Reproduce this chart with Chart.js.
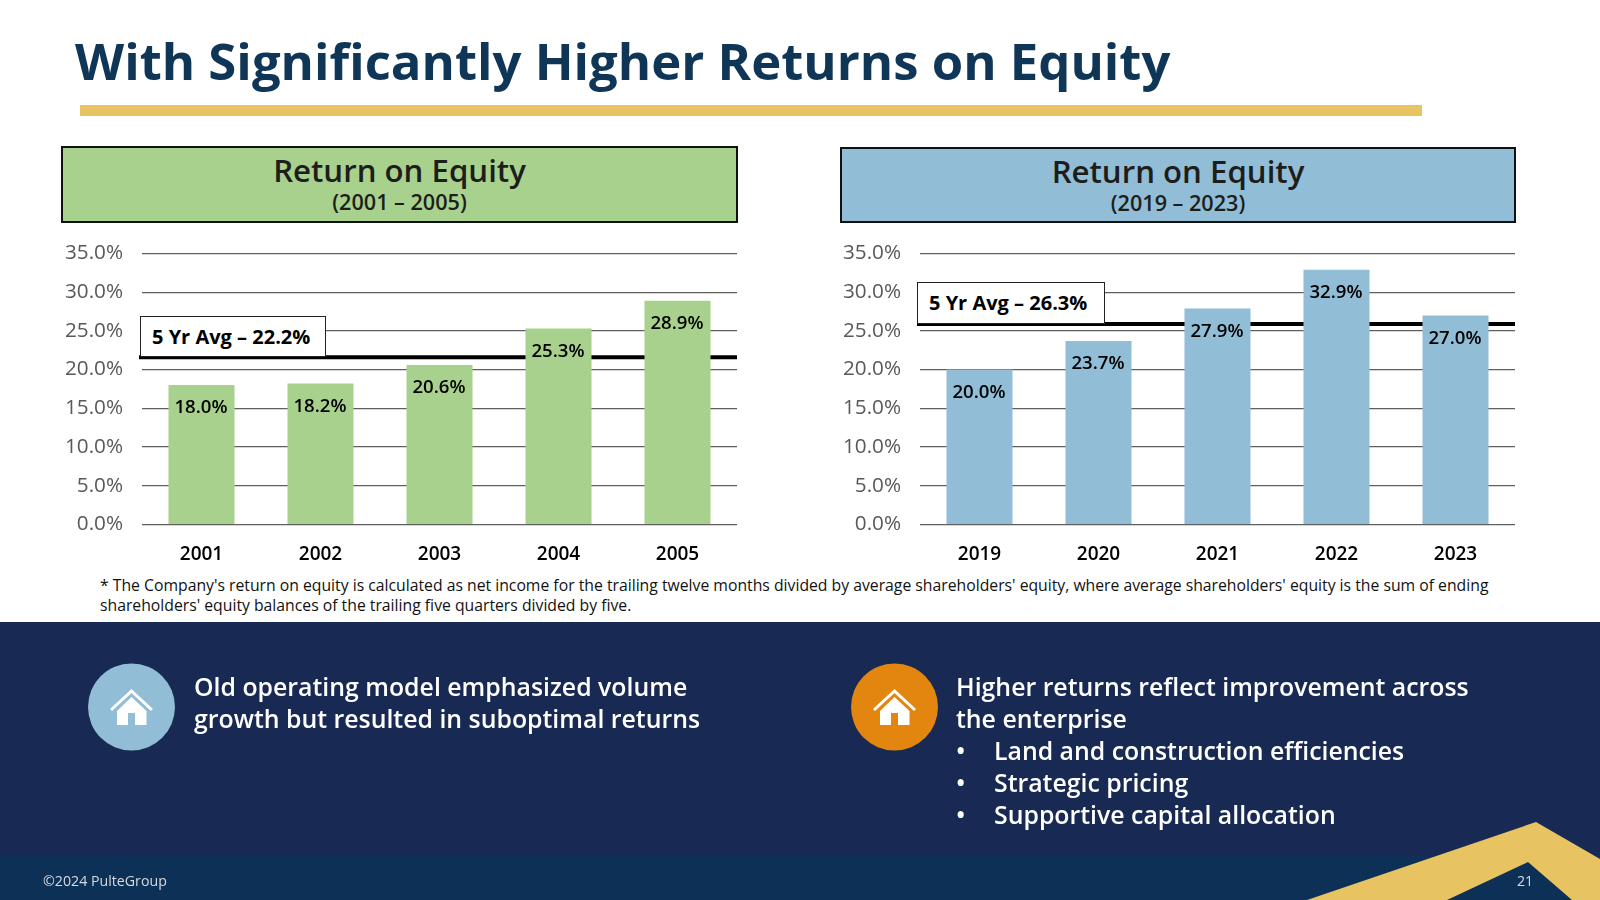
<!DOCTYPE html>
<html>
<head>
<meta charset="utf-8">
<title>Return on Equity</title>
<script src="https://cdn.jsdelivr.net/npm/chart.js@4"></script>
<style>
html,body{margin:0;padding:0;background:#fff;}
body{width:1600px;height:900px;position:relative;overflow:hidden;font-family:"Open Sans",sans-serif;color:#000;}
.abs{position:absolute;white-space:nowrap;}
#title{left:75px;top:25px;font-size:50.85px;font-weight:700;color:#0f3557;line-height:72px;}
#rule{left:80px;top:105px;width:1342px;height:11px;background:#e7c362;}
.head{box-sizing:border-box;border:2px solid #111;text-align:center;color:#1d1d1b;}
.head .big{font-size:31.2px;font-weight:600;line-height:40px;margin-top:2px;}
.head .small{font-size:21.6px;font-weight:600;line-height:24px;margin-top:0;}
#headL{left:61px;top:146px;width:677px;height:77px;background:#a9d18e;}
#headR{left:840px;top:147px;width:676px;height:76px;background:#92bdd6;}
canvas{position:absolute;}
.avg{box-sizing:border-box;border:1.5px solid #222;background:#fff;font-size:20px;font-weight:700;line-height:39px;padding-left:11px;z-index:2;}
#avgL{left:140px;top:316px;width:186px;height:41px;}
#avgR{left:917px;top:282px;width:188px;height:42px;}
#note{left:100px;top:576px;font-size:15.75px;line-height:19.5px;color:#111;}
#band{left:0;top:622px;width:1600px;height:233px;background:#182a53;}
#foot{left:0;top:855px;width:1600px;height:45px;background:#0d3156;}
#deco{left:0;top:0;}
.copy{color:#ffffff;font-size:24.85px;font-weight:600;line-height:32px;}
#copyL{left:194px;top:670px;}
#copyR{left:956px;top:670px;}
.bul{position:absolute;left:0;}
.ind{padding-left:38px;}
.small-foot{font-size:14.2px;color:#d5dae2;line-height:20px;}
</style>
</head>
<body>
<div class="abs" id="title">With Significantly Higher Returns on Equity</div>
<div class="abs" id="rule"></div>

<div class="abs head" id="headL"><div class="big">Return on Equity</div><div class="small">(2001 – 2005)</div></div>
<div class="abs head" id="headR"><div class="big">Return on Equity</div><div class="small">(2019 – 2023)</div></div>

<canvas id="chartL" width="687" height="348" style="left:50px;top:222px"></canvas>
<canvas id="chartR" width="687" height="348" style="left:828px;top:222px"></canvas>

<div class="abs avg" id="avgL">5 Yr Avg – 22.2%</div>
<div class="abs avg" id="avgR">5 Yr Avg – 26.3%</div>

<div class="abs" id="note">* The Company's return on equity is calculated as net income for the trailing twelve months divided by average shareholders' equity, where average shareholders' equity is the sum of ending<br>shareholders' equity balances of the trailing five quarters divided by five.</div>

<div class="abs" id="band"></div>
<div class="abs" id="foot"></div>

<svg class="abs" id="deco" width="1600" height="900">
  <polygon points="1307,900 1536,822 1600,859 1600,900 1572,900 1528,862 1447,900" fill="#e7c362"/>
  <circle cx="131.5" cy="707" r="43.5" fill="#92bdd6"/>
  <circle cx="894.5" cy="707" r="43.5" fill="#e3860f"/>
  <g id="house" fill="#fff">
    <polygon points="131.5,689 153,709 151,711 131.5,693 112,711 110,709"/>
    <path d="M117,711 L131.5,697 L146.5,711 V725 H135 V713 H128 V725 H117 Z"/>
  </g>
  <g fill="#fff" transform="translate(763,0)">
    <polygon points="131.5,689 153,709 151,711 131.5,693 112,711 110,709"/>
    <path d="M117,711 L131.5,697 L146.5,711 V725 H135 V713 H128 V725 H117 Z"/>
  </g>
</svg>

<div class="abs copy" id="copyL">Old operating model emphasized volume<br>growth but resulted in suboptimal returns</div>
<div class="abs copy" id="copyR">
  Higher returns reflect improvement across<br>the enterprise
  <div class="ind"><span class="bul">•</span>Land and construction efficiencies</div>
  <div class="ind"><span class="bul">•</span>Strategic pricing</div>
  <div class="ind"><span class="bul">•</span>Supportive capital allocation</div>
</div>

<div class="abs small-foot" style="left:43px;top:871px">©2024 PulteGroup</div>
<div class="abs small-foot" style="left:1517px;top:871px">21</div>

<script>
const yearsLeft = ["2001","2002","2003","2004","2005"];
const roeLeft = [18.0,18.2,20.6,25.3,28.9];
const avgLineLeft = 21.6;

const yearsRight = ["2019","2020","2021","2022","2023"];
const roeRight = [20.0,23.7,27.9,32.9,27.0];
const avgLineRight = 25.9;

const fontFamily = '"Open Sans", sans-serif';

// average line sits over the grid but behind the bars
const avgLinePlugin = {
  id: "avgLine",
  beforeDatasetsDraw(chart, args, opts) {
    const {ctx, chartArea, scales} = chart;
    const y = scales.y.getPixelForValue(opts.value);
    ctx.save();
    ctx.strokeStyle = "#000";
    ctx.lineWidth = 4;
    ctx.beginPath();
    ctx.moveTo(chartArea.left - 3, y);
    ctx.lineTo(chartArea.right, y);
    ctx.stroke();
    ctx.restore();
  }
};

// value labels inside the top of each bar
const barLabelPlugin = {
  id: "barLabels",
  afterDatasetsDraw(chart) {
    const {ctx} = chart;
    const meta = chart.getDatasetMeta(0);
    ctx.save();
    ctx.font = `600 18.6px ${fontFamily}`;
    ctx.fillStyle = "#000";
    ctx.textAlign = "center";
    ctx.textBaseline = "middle";
    meta.data.forEach((bar, i) => {
      ctx.fillText(chart.data.datasets[0].data[i].toFixed(1) + "%", bar.x - 0.5, bar.y + 23);
    });
    ctx.restore();
  }
};

function buildChart(id, labels, values, colour, avg) {
  return new Chart(document.getElementById(id), {
    type: "bar",
    data: {labels, datasets: [{data: values, backgroundColor: colour, borderWidth: 0, categoryPercentage: 0.555, barPercentage: 1}]},
    options: {
      responsive: false,
      animation: false,
      layout: {padding: {top: 9, right: 0, bottom: 0, left: 0}},
      plugins: {legend: {display: false}, tooltip: {enabled: false}, avgLine: {value: avg}},
      scales: {
        x: {
          grid: {display: false},
          border: {display: false},
          ticks: {color: "#000", font: {family: fontFamily, size: 19, weight: "600"}, padding: 11, maxRotation: 0},
          afterFit: s => { s.height = 45.5; }
        },
        y: {
          min: 0, max: 35,
          grid: {color: "#5f5f5f", lineWidth: 1.2, tickLength: 0},
          border: {display: false},
          ticks: {stepSize: 5, color: "#595959", padding: 19, font: {family: fontFamily, size: 20.7}, callback: v => v.toFixed(1) + "%"},
          afterFit: s => { s.width = 92; }
        }
      }
    },
    plugins: [avgLinePlugin, barLabelPlugin]
  });
}

buildChart("chartL", yearsLeft, roeLeft, "#a9d18e", avgLineLeft);
buildChart("chartR", yearsRight, roeRight, "#92bdd6", avgLineRight);
</script>
</body>
</html>
